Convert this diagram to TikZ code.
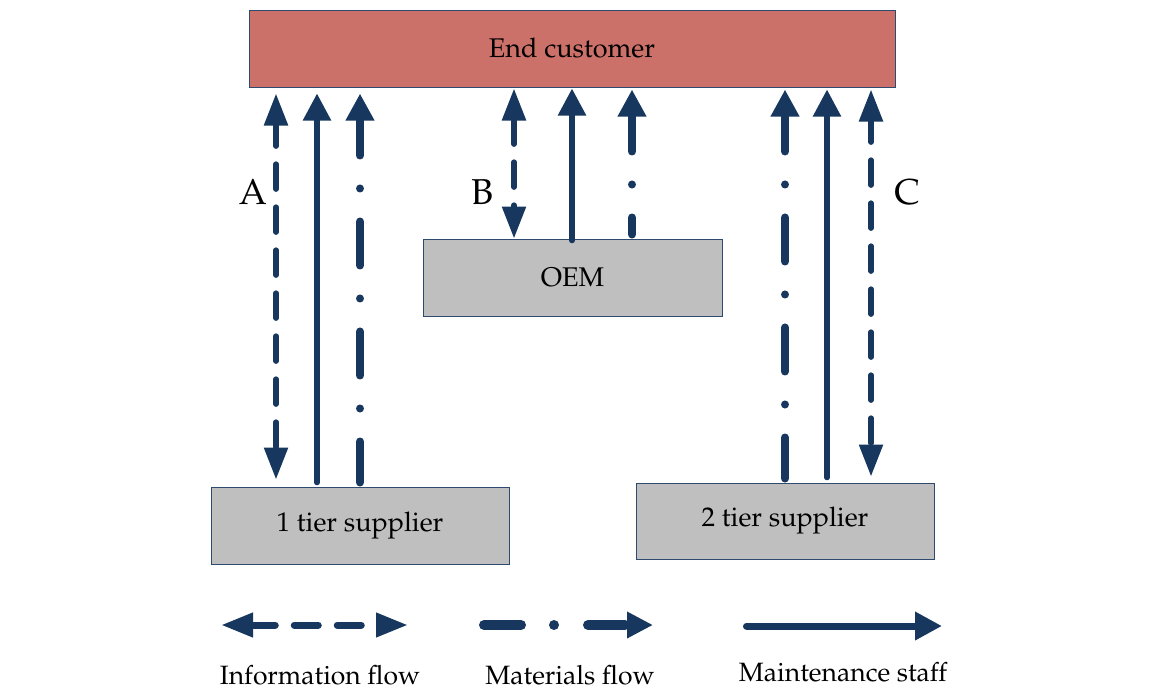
\documentclass[tikz,border=0pt]{standalone}
\usepackage[T1]{fontenc}
\usepackage{mathpazo}
\usetikzlibrary{arrows.meta}
\definecolor{navy}{HTML}{17375E}
\definecolor{ecfill}{HTML}{CC7169}
\definecolor{boxfill}{HTML}{BFBFBF}
\definecolor{boxline}{HTML}{2E4A6E}
\tikzset{
  box/.style={draw=boxline, line width=1pt, inner sep=0pt, text=black,
    font=\fontsize{27}{30}\selectfont},
  infoflow/.style={navy, line width=5.5pt, line cap=round,
    dash pattern=on 25pt off 18pt,
    {Triangle[length=32pt,width=23pt]}-{Triangle[length=32pt,width=23pt]}},
  matflow/.style={navy, line width=8pt, line cap=round,
    dash pattern=on 44pt off 33pt on 0.01pt off 33pt,
    -{Triangle[length=27pt,width=27pt]}},
  staff/.style={navy, line width=5.5pt, line cap=round,
    -{Triangle[length=27pt,width=27pt]}},
  lbl/.style={font=\fontsize{36}{40}\selectfont, inner sep=0pt},
  legendtext/.style={font=\fontsize{26.5}{28}\selectfont, inner sep=0pt, anchor=base},
}
\begin{document}
\begin{tikzpicture}[x=1pt,y=-1pt]
\useasboundingbox (0,0) rectangle (1150,691);

% boxes
\node[box, fill=ecfill, minimum width=646pt, minimum height=77pt] (ec) at (572,48.5) {End customer};
\node[box, fill=boxfill, minimum width=299pt, minimum height=77pt] (oem) at (572.5,277.5) {OEM};
\node[box, fill=boxfill, minimum width=298pt, minimum height=77pt] (t1) at (360,525.5) {1 tier supplier};
\node[box, fill=boxfill, minimum width=298pt, minimum height=76pt] (t2) at (785,521) {2 tier supplier};

% group A
\draw[infoflow, dash phase=3pt, shorten <=6pt, shorten >=7pt] (276,0 |- ec.south) -- (276,0 |- t1.north);
\draw[staff, shorten <=4pt, shorten >=6pt] (317,0 |- t1.north) -- (317,0 |- ec.south);
\draw[matflow, dash phase=3pt, shorten <=4pt, shorten >=6pt] (360,0 |- t1.north) -- (360,0 |- ec.south);

% group B
\draw[infoflow, shorten <=1pt] (514,0 |- ec.south) -- (514,0 |- oem.north);
\draw[staff, shorten <=-2pt, shorten >=1pt] (572,0 |- oem.north) -- (572,0 |- ec.south);
\draw[matflow, dash phase=27pt, shorten <=4pt, shorten >=2pt] (632,0 |- oem.north) -- (632,0 |- ec.south);

% group C
\draw[matflow, dash phase=3pt, shorten <=4pt, shorten >=2pt] (785,0 |- t2.north) -- (785,0 |- ec.south);
\draw[staff, shorten <=5pt, shorten >=2pt] (827,0 |- t2.north) -- (827,0 |- ec.south);
\draw[infoflow, dash phase=3pt, shorten <=2pt, shorten >=6pt] (871,0 |- ec.south) -- (871,0 |- t2.north);

% labels
\node[lbl] (la) at (253,192) {A};
\node[lbl] (lb) at (482,192) {B};
\node[lbl] (lc) at (907,192) {C};

% legend
\coordinate (i1) at (221,625);
\coordinate (i2) at (408,625);
\coordinate (m1) at (484,625);
\coordinate (m2) at (653,625);
\coordinate (s1) at (746.5,626);
\coordinate (s2) at (942,626);
\draw[infoflow, line width=7pt, dash pattern=on 24pt off 19pt] (i1) -- (i2);
\draw[matflow, line width=10pt, dash pattern=on 37pt off 33pt on 0.01pt off 34pt,
  -{Triangle[length=26pt,width=25pt]}] (m1) -- (m2);
\draw[staff, line width=7pt] (s1) -- (s2);
\node[legendtext] (ti) at (320,684) {Information flow};
\node[legendtext] (tm) at (570,684) {Materials flow};
\node[legendtext] (ts) at (843,681) {Maintenance staff};
\end{tikzpicture}
\end{document}
